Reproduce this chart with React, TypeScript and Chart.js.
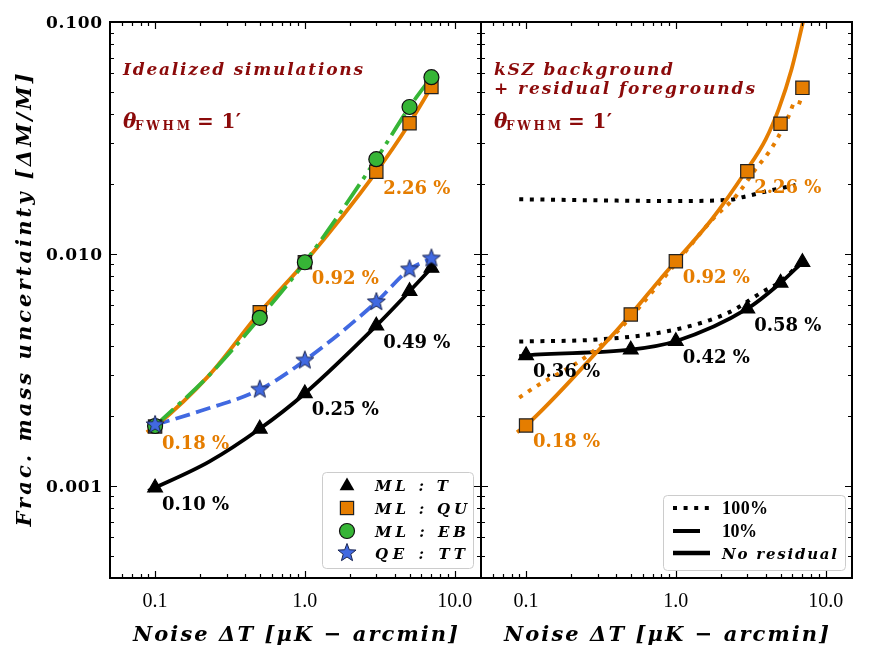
import React, { useEffect, useRef } from "react";
import { Chart, registerables } from "chart.js";
Chart.register(...registerables);

// ---------------- data ----------------
const noise = [0.1, 0.5, 1, 3, 5, 7];

// Left panel: idealized simulations (markers)
const idealT = [0.00098, 0.00176, 0.0025, 0.0049, 0.0069, 0.0087];
const idealQU = [0.0018, 0.0056, 0.0092, 0.0226, 0.0366, 0.0524];
const idealEB = [0.00181, 0.0053, 0.0092, 0.0256, 0.043, 0.0578];
const idealQE = [0.00183, 0.0026, 0.00347, 0.0062, 0.00858, 0.00956];

// Left panel: curves
const curveIdealTx = [0.09, 0.23, 0.5, 1, 3, 5, 7];
const curveIdealTy = [0.00095, 0.00127, 0.00176, 0.0025, 0.0049, 0.0069, 0.0087];
const curveIdealQUx = [0.088, 0.1, 0.23, 0.5, 1, 3, 5, 7];
const curveIdealQUy = [0.0017, 0.0018, 0.003, 0.0056, 0.0092, 0.0226, 0.0366, 0.0524];
const curveIdealEBx = [0.1, 0.23, 0.5, 1, 3, 5, 7];
const curveIdealEBy = [0.00181, 0.003, 0.0053, 0.0092, 0.0256, 0.043, 0.0578];
const curveIdealQEx = [0.1, 0.2, 0.5, 1, 3, 5, 7];
const curveIdealQEy = [0.00183, 0.0021, 0.0026, 0.00347, 0.0062, 0.00858, 0.00956];

// Right panel: kSZ + residual foregrounds (markers)
const kszT = [0.00365, 0.00386, 0.0042, 0.0058, 0.0075, 0.0092];
const kszQU = [0.00182, 0.00548, 0.0093, 0.0227, 0.0364, 0.052];

// Right panel: curves
const noResTx = [0.09, 0.1, 0.5, 1, 3, 5, 7];
const noResTy = [0.00362, 0.00365, 0.00386, 0.0042, 0.0058, 0.0075, 0.0092];
const res100Tx = [0.09, 0.3, 1, 2.26, 3.74, 5, 7];
const res100Ty = [0.00419, 0.00427, 0.00472, 0.00559, 0.00682, 0.0076, 0.0093];
const res100Ux = [0.09, 1, 2.26, 2.93, 4.17, 6.3];
const res100Uy = [0.0172, 0.0169, 0.0171, 0.0177, 0.0187, 0.0198];
const noResQUx = [0.087, 0.1, 0.3, 0.5, 0.79, 1, 1.74, 2.93, 3.98, 4.86, 5.93, 7.14];
const noResQUy = [0.0017, 0.00182, 0.0038, 0.00548, 0.0078, 0.0093, 0.0141, 0.0227, 0.0312, 0.0421, 0.0627, 0.103];
const res100QUx = [0.09, 0.122, 0.226, 0.307, 0.374, 0.464, 1, 1.74, 2.51, 3.41, 4.17, 4.86, 5.66, 6.3, 7];
const res100QUy = [0.0024, 0.00273, 0.00343, 0.00398, 0.0044, 0.00506, 0.0091, 0.014, 0.0177, 0.0232, 0.0274, 0.0322, 0.0393, 0.0454, 0.0445];

// annotations (percent labels at noise indices)
const labelIdx = [0, 2, 3];
const idealTLabels = ["0.10 %", "0.25 %", "0.49 %"];
const idealQULabels = ["0.18 %", "0.92 %", "2.26 %"];
const kszTLabels = ["0.36 %", "0.42 %", "0.58 %"];
const kszQULabels = ["0.18 %", "0.92 %", "2.26 %"];

// axes
const xTickValues = [0.1, 1, 10];
const xTickLabels = ["0.1", "1.0", "10.0"];
const yTickValues = [0.001, 0.01, 0.1];
const yTickLabels = ["0.001", "0.010", "0.100"];
const X_MIN = 0.05, X_MAX = 15, Y_MIN = 0.0004, Y_MAX = 0.1;

const leftLegend = ["ML : T", "ML : QU", "ML : EB", "QE : TT"];
const rightLegend = ["100%", "10%", "No residual"];

// ---------------- styles ----------------
const W = 871, H = 661;
const ORANGE = "#e57d00";
const GREEN = "#36b536";
const BLUE = "#4169e1";
const DARKRED = "#8b0a0a";
const SERIF = "'Liberation Serif', serif";
const DSERIF = "'DejaVu Serif', serif";

const pts = (xs: number[], ys: number[]) => xs.map((x, i) => ({ x, y: ys[i] }));

function lineDs(xs: number[], ys: number[], color: string, width: number, dash: number[], order: number) {
  return {
    type: "line",
    data: pts(xs, ys),
    borderColor: color,
    backgroundColor: color,
    borderWidth: width,
    borderDash: dash,
    pointRadius: 0,
    cubicInterpolationMode: "monotone",
    fill: false,
    order,
  };
}
function markerDs(ys: number[], style: any, radius: number, fill: string, edge: string, order: number) {
  return {
    type: "line",
    data: pts(noise, ys),
    showLine: false,
    pointStyle: style,
    pointRadius: radius,
    pointBackgroundColor: fill,
    pointBorderColor: edge,
    pointBorderWidth: 1.2,
    order,
  };
}

function makeStar(size: number, outer: number, inner: number) {
  const c = document.createElement("canvas");
  c.width = size; c.height = size;
  const g = c.getContext("2d")!;
  g.beginPath();
  for (let i = 0; i < 10; i++) {
    const r = i % 2 === 0 ? outer : inner;
    const a = -Math.PI / 2 + (i * Math.PI) / 5;
    const px = size / 2 + r * Math.cos(a), py = size / 2 + r * Math.sin(a);
    if (i === 0) g.moveTo(px, py); else g.lineTo(px, py);
  }
  g.closePath();
  g.fillStyle = BLUE; g.fill();
  g.lineWidth = 1; g.strokeStyle = "#1b2550"; g.stroke();
  return c;
}

function fitText(ctx: any, text: string, x: number, y: number, width: number, font: string, color: string, align = "left") {
  ctx.font = font;
  ctx.letterSpacing = "0px";
  ctx.textAlign = "left";
  const w0 = ctx.measureText(text).width;
  const n = Array.from(text).length;
  const sp = n > 1 ? (width - w0) / (n - 1) : 0;
  ctx.letterSpacing = sp + "px";
  ctx.fillStyle = color;
  const sx = align === "center" ? x - width / 2 : align === "right" ? x - width : x;
  ctx.fillText(text, sx, y);
  ctx.letterSpacing = "0px";
}

function drawTriangle(ctx: any, x: number, y: number, r: number) {
  ctx.beginPath();
  for (let i = 0; i < 3; i++) {
    const a = (i * 2 * Math.PI) / 3;
    const px = x + Math.sin(a) * r, py = y - Math.cos(a) * r;
    if (i === 0) ctx.moveTo(px, py); else ctx.lineTo(px, py);
  }
  ctx.closePath();
  ctx.fillStyle = "#000"; ctx.fill();
}

function roundRect(ctx: any, x: number, y: number, w: number, h: number, r: number) {
  ctx.beginPath();
  ctx.moveTo(x + r, y);
  ctx.lineTo(x + w - r, y); ctx.arcTo(x + w, y, x + w, y + r, r);
  ctx.lineTo(x + w, y + h - r); ctx.arcTo(x + w, y + h, x + w - r, y + h, r);
  ctx.lineTo(x + r, y + h); ctx.arcTo(x, y + h, x, y + h - r, r);
  ctx.lineTo(x, y + r); ctx.arcTo(x, y, x + r, y, r);
  ctx.closePath();
}

function thetaLabel(ctx: any, x: number, base: number) {
  fitText(ctx, "θ", x, base, 10, `italic bold 20px ${DSERIF}`, DARKRED);
  fitText(ctx, "FWHM", x + 12, base + 2, 55, `bold 12px ${DSERIF}`, DARKRED);
  fitText(ctx, "= 1′", x + 74, base, 44, `bold 20px ${DSERIF}`, DARKRED);
}

function panelPlugin(p: any) {
  return {
    id: "panelDecor" + p.id,
    afterDraw(chart: any) {
      const ctx = chart.ctx;
      const { left, right, top, bottom } = chart.chartArea;
      const xs = chart.scales.x, ys = chart.scales.y;
      ctx.save();
      ctx.setLineDash([]);
      // ticks
      ctx.strokeStyle = "#000"; ctx.lineWidth = 1.2;
      ctx.beginPath();
      for (let d = -2; d <= 1; d++) for (let k = 1; k <= 9; k++) {
        const v = k * Math.pow(10, d);
        if (v <= X_MIN * 1.001 || v >= X_MAX * 0.999) continue;
        const px = Math.round(xs.getPixelForValue(v)) + 0.5;
        const len = k === 1 ? 7 : 4;
        ctx.moveTo(px, bottom); ctx.lineTo(px, bottom - len);
        ctx.moveTo(px, top); ctx.lineTo(px, top + len);
      }
      for (let d = -4; d <= -1; d++) for (let k = 1; k <= 9; k++) {
        const v = k * Math.pow(10, d);
        if (v <= Y_MIN * 1.001 || v >= Y_MAX * 0.999) continue;
        const py = Math.round(ys.getPixelForValue(v)) + 0.5;
        const len = k === 1 ? 7 : 4;
        ctx.moveTo(left, py); ctx.lineTo(left + len, py);
        ctx.moveTo(right, py); ctx.lineTo(right - len, py);
      }
      ctx.stroke();
      ctx.lineWidth = 2;
      ctx.strokeRect(left, top, right - left, bottom - top);

      // x tick labels
      ctx.textBaseline = "alphabetic";
      xTickValues.forEach((v, i) => {
        ctx.font = `20px ${SERIF}`;
        ctx.fillStyle = "#000";
        ctx.textAlign = "center";
        ctx.letterSpacing = "0px";
        ctx.fillText(xTickLabels[i], xs.getPixelForValue(v), 607);
      });
      // x title
      fitText(ctx, "Noise ΔT [μK − arcmin]", (left + right) / 2, 641, 325, `italic bold 21px ${DSERIF}`, "#000", "center");

      if (p.yLabels) {
        yTickValues.forEach((v, i) => {
          fitText(ctx, yTickLabels[i], 102, ys.getPixelForValue(v) + 6, 56, `bold 17px ${DSERIF}`, "#000", "right");
        });
        ctx.save();
        ctx.translate(31, (top + bottom) / 2);
        ctx.rotate(-Math.PI / 2);
        fitText(ctx, "Frac. mass uncertainty [ΔM/M]", 0, 0, 453, `italic bold 21px ${DSERIF}`, "#000", "center");
        ctx.restore();
      }

      // panel titles
      p.titles.forEach((t: any) => fitText(ctx, t.text, left + 13, t.base, t.width, `italic bold 17px ${DSERIF}`, DARKRED));
      thetaLabel(ctx, left + 13, 128);

      // percent labels
      p.labels.forEach((g: any) => {
        labelIdx.forEach((idx, j) => {
          const px = xs.getPixelForValue(noise[idx]);
          const py = ys.getPixelForValue(g.values[idx]);
          fitText(ctx, g.texts[j], px + 7, py + 22, 67, `bold 18px ${DSERIF}`, g.color);
        });
      });

      // legend
      if (p.legend === "left") {
        ctx.fillStyle = "rgba(255,255,255,0.8)";
        roundRect(ctx, 322.5, 472.5, 151, 96, 4);
        ctx.fill();
        ctx.strokeStyle = "#cccccc"; ctx.lineWidth = 1; ctx.stroke();
        const rows = [485, 508, 531, 553];
        const mx = 347;
        drawTriangle(ctx, mx, rows[0] + 1, 8.5);
        ctx.fillStyle = ORANGE; ctx.fillRect(mx - 6.6, rows[1] - 6.6, 13.2, 13.2);
        ctx.strokeStyle = "#222"; ctx.lineWidth = 1.2; ctx.strokeRect(mx - 6.6, rows[1] - 6.6, 13.2, 13.2);
        ctx.beginPath(); ctx.arc(mx, rows[2], 7.5, 0, Math.PI * 2); ctx.fillStyle = GREEN; ctx.fill(); ctx.strokeStyle = "#111"; ctx.stroke();
        ctx.drawImage(p.star, mx - p.star.width / 2, rows[3] - p.star.height / 2);
        const widths = [73, 92, 91, 90];
        leftLegend.forEach((t, i) => fitText(ctx, t, 375, rows[i] + 6, widths[i], `italic bold 15px ${DSERIF}`, "#000"));
      } else if (p.legend === "right") {
        ctx.fillStyle = "rgba(255,255,255,0.8)";
        roundRect(ctx, 663.5, 495.5, 182, 75, 4);
        ctx.fill();
        ctx.strokeStyle = "#cccccc"; ctx.lineWidth = 1; ctx.stroke();
        const rows = [508, 531, 553];
        ctx.strokeStyle = "#000"; ctx.lineWidth = 4;
        ctx.setLineDash([4, 6.6]);
        ctx.beginPath(); ctx.moveTo(673, rows[0]); ctx.lineTo(710, rows[0]); ctx.stroke();
        ctx.setLineDash([]);
        ctx.beginPath(); ctx.moveTo(673, rows[1]); ctx.lineTo(700, rows[1]); ctx.stroke();
        ctx.lineWidth = 4.5;
        ctx.beginPath(); ctx.moveTo(673, rows[2]); ctx.lineTo(710, rows[2]); ctx.stroke();
        fitText(ctx, rightLegend[0], 722, rows[0] + 6, 46, `bold 18px ${SERIF}`, "#000");
        fitText(ctx, rightLegend[1], 722, rows[1] + 6, 35, `bold 18px ${SERIF}`, "#000");
        fitText(ctx, rightLegend[2], 722, rows[2] + 6, 115, `italic bold 15px ${DSERIF}`, "#000");
      }
      ctx.restore();
    },
  };
}

function buildConfig(area: any, datasets: any[], plugin: any) {
  return {
    type: "line",
    data: { datasets },
    options: {
      responsive: false,
      animation: false,
      devicePixelRatio: 1,
      events: [],
      layout: { padding: { left: area.left, top: area.top, right: W - area.right, bottom: H - area.bottom } },
      scales: {
        x: { type: "logarithmic", min: X_MIN, max: X_MAX, display: false },
        y: { type: "logarithmic", min: Y_MIN, max: Y_MAX, display: false },
      },
      plugins: { legend: { display: false }, tooltip: { enabled: false } },
    },
    plugins: [plugin],
  } as any;
}

export default function App() {
  const leftRef = useRef<HTMLCanvasElement>(null);
  const rightRef = useRef<HTMLCanvasElement>(null);

  useEffect(() => {
    const star = makeStar(22, 9.5, 4);
    const DOT = [4, 6.6];
    const leftDatasets = [
      lineDs(curveIdealTx, curveIdealTy, "#000", 3.8, [], 20),
      lineDs(curveIdealQEx, curveIdealQEy, BLUE, 3.8, [15, 6.4], 19),
      lineDs(curveIdealQUx, curveIdealQUy, ORANGE, 3.8, [], 18),
      lineDs(curveIdealEBx, curveIdealEBy, GREEN, 3.8, [25, 6.4, 4, 6.4], 17),
      markerDs(idealT, "triangle", 8.5, "#000", "#000", 4),
      markerDs(idealQU, "rect", 9.4, ORANGE, "#222", 3),
      markerDs(idealEB, "circle", 7.5, GREEN, "#111", 2),
      markerDs(idealQE, star, 8, BLUE, BLUE, 1),
    ];
    const rightDatasets = [
      lineDs(res100Ux, res100Uy, "#000", 4, DOT, 20),
      lineDs(res100Tx, res100Ty, "#000", 4, DOT, 19),
      lineDs(noResTx, noResTy, "#000", 3.8, [], 18),
      lineDs(res100QUx, res100QUy, ORANGE, 4, DOT, 17),
      lineDs(noResQUx, noResQUy, ORANGE, 3.8, [], 16),
      markerDs(kszT, "triangle", 8.5, "#000", "#000", 4),
      markerDs(kszQU, "rect", 9.4, ORANGE, "#222", 3),
    ];
    const leftPanel = {
      id: "L", yLabels: true, legend: "left", star,
      titles: [{ text: "Idealized simulations", base: 75, width: 240 }],
      labels: [
        { values: idealT, texts: idealTLabels, color: "#000" },
        { values: idealQU, texts: idealQULabels, color: ORANGE },
      ],
    };
    const rightPanel = {
      id: "R", yLabels: false, legend: "right", star,
      titles: [
        { text: "kSZ background", base: 75, width: 179 },
        { text: "+ residual foregrounds", base: 93.5, width: 261 },
      ],
      labels: [
        { values: kszT, texts: kszTLabels, color: "#000" },
        { values: kszQU, texts: kszQULabels, color: ORANGE },
      ],
    };
    const c1 = new Chart(leftRef.current!, buildConfig({ left: 110, top: 22, right: 481, bottom: 578 }, leftDatasets, panelPlugin(leftPanel)));
    const c2 = new Chart(rightRef.current!, buildConfig({ left: 481, top: 22, right: 852, bottom: 578 }, rightDatasets, panelPlugin(rightPanel)));
    return () => { c1.destroy(); c2.destroy(); };
  }, []);

  const cs: React.CSSProperties = { position: "absolute", left: 0, top: 0, width: W, height: H };
  return (
    <div style={{ position: "absolute", left: 0, top: 0, width: W, height: H, background: "#fff" }}>
      <canvas ref={leftRef} width={W} height={H} style={cs} />
      <canvas ref={rightRef} width={W} height={H} style={cs} />
    </div>
  );
}
